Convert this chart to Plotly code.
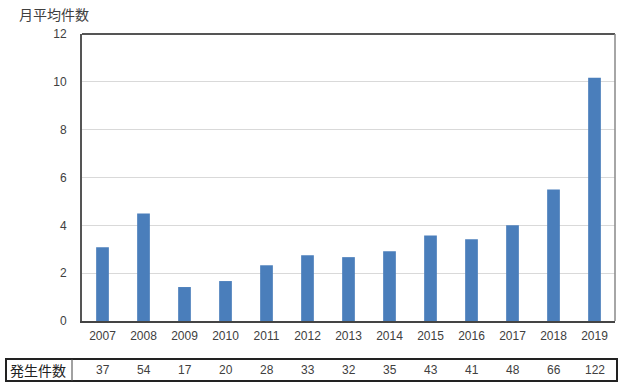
import plotly.graph_objects as go

years = ["2007", "2008", "2009", "2010", "2011", "2012", "2013",
         "2014", "2015", "2016", "2017", "2018", "2019"]
monthly_avg = [3.08, 4.5, 1.42, 1.67, 2.33, 2.75, 2.67, 2.92, 3.58, 3.42, 4.0, 5.5, 10.17]
annual_counts = [37, 54, 17, 20, 28, 33, 32, 35, 43, 41, 48, 66, 122]
y_title = "月平均件数"
table_label = "発生件数"

W, H = 620, 385
L, R, T, B = 82, 5, 34, 64
plot_h = H - T - B
plot_w = W - L - R

num_font = "Liberation Sans, Arial, sans-serif"
jp_font = "Noto Sans CJK JP, sans-serif"
txt_col = "#404040"

fig = go.Figure()
fig.add_trace(go.Bar(
    x=years, y=monthly_avg,
    marker=dict(color="#4A7EBB", line=dict(width=0)),
    width=0.31,
))

fig.update_layout(
    width=W, height=H,
    margin=dict(l=L, r=R, t=T, b=B, pad=0, autoexpand=False),
    paper_bgcolor="white", plot_bgcolor="white",
    showlegend=False,
    font=dict(family=num_font, size=12, color=txt_col),
    xaxis=dict(
        type="category", showgrid=False, automargin=False,
        range=[-0.5, len(years) - 0.5],
        showline=True, linecolor="#444444", linewidth=2, mirror=False,
        ticks="", tickfont=dict(family=num_font, size=12, color=txt_col),
        ticklabelstandoff=3,
    ),
    yaxis=dict(
        range=[0, 12], dtick=2, showgrid=True, gridcolor="#D9D9D9", gridwidth=1,
        showline=True, linecolor="#555555", linewidth=2, automargin=False,
        ticks="", tickfont=dict(family=num_font, size=12, color=txt_col),
        ticklabelstandoff=11, zeroline=False,
    ),
)

# plot border (top and right)
fig.add_shape(type="line", xref="paper", yref="paper", x0=0, x1=1, y0=1, y1=1,
              line=dict(color="#555555", width=2))
fig.add_shape(type="line", xref="paper", yref="paper", x0=1, x1=1, y0=0, y1=1,
              line=dict(color="#888888", width=1.5))

# y-axis title
fig.add_annotation(text=y_title, xref="paper", yref="paper",
                   x=-(L - 17) / plot_w, y=1 + 20 / plot_h,
                   xanchor="left", yanchor="middle", showarrow=False,
                   font=dict(family=jp_font, size=14, color=txt_col))

# table below the chart
ty0 = -(359 - (H - B)) / plot_h
ty1 = -(381 - (H - B)) / plot_h
tx0 = -(L - 6) / plot_w
tx1 = 1 + 2 / plot_w
fig.add_shape(type="rect", xref="paper", yref="paper", x0=tx0, x1=tx1, y0=ty0, y1=ty1,
              line=dict(color="#222222", width=2))
fig.add_shape(type="line", xref="paper", yref="paper",
              x0=-(L - 72) / plot_w, x1=-(L - 72) / plot_w, y0=ty0, y1=ty1,
              line=dict(color="#444444", width=1))
ymid = (ty0 + ty1) / 2
fig.add_annotation(text=table_label, xref="paper", yref="paper",
                   x=-(L - 8) / plot_w, y=ymid, xanchor="left", yanchor="middle",
                   showarrow=False, font=dict(family=jp_font, size=14, color="#222222"))
for i, c in enumerate(annual_counts):
    fig.add_annotation(text=str(c), xref="x", yref="paper", x=i, y=ymid,
                       xanchor="center", yanchor="middle", showarrow=False,
                       font=dict(family=num_font, size=12, color=txt_col))

fig.write_html("out.html", config={"displayModeBar": False},
               post_script="document.body.style.margin='0';")
